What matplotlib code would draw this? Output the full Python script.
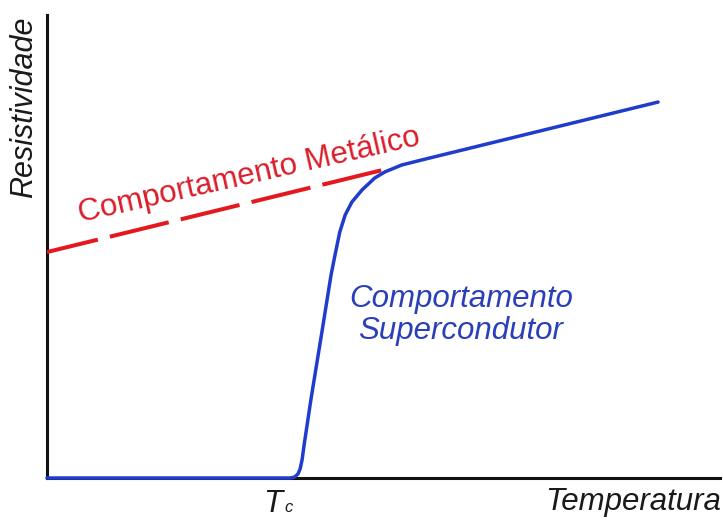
import matplotlib
matplotlib.use('Agg')
import matplotlib.pyplot as plt

# curve values (axes run 0..100 in both directions)
super_temp = [0, 36.1, 36.8, 37.3, 37.6, 37.9, 38.2, 39.2, 40.9, 42.2, 42.8,
              43.5, 44.3, 45.3, 46.8, 48.7, 50.2, 52.7, 55.7, 90.8]
super_res = [0, 0, 0.2, 0.9, 1.9, 3.9, 7.1, 16.8, 32.0, 43.8, 48.2,
             53.1, 56.8, 59.6, 62.2, 64.8, 66.1, 67.6, 68.7, 81.2]

metal_temp = [0, 49.8]
metal_res = [48.8, 66.5]

tc_pos = 32.1

plt.rcParams['font.family'] = ['Liberation Sans', 'DejaVu Sans']
plt.rcParams['lines.scale_dashes'] = False

red = '#e3191f'
blue = '#1f3ccc'

fig = plt.figure(figsize=(7.23, 5.2), dpi=100)
ax = fig.add_axes([47 / 723, 42 / 520, 673 / 723, 463 / 520])
ax.set_xlim(0, 100)
ax.set_ylim(0, 100)

for side in ['top', 'right']:
    ax.spines[side].set_visible(False)
for side in ['left', 'bottom']:
    ax.spines[side].set_linewidth(2.2)
    ax.spines[side].set_color('#111111')
ax.set_xticks([])
ax.set_yticks([])

# metallic behaviour (dashed)
ax.plot(metal_temp, metal_res, color=red, lw=2.9,
        linestyle=(5.9, (43.6, 8.9)), dash_capstyle='butt', zorder=3)

# superconducting behaviour
ax.plot(super_temp, super_res, color=blue, lw=2.5, solid_capstyle='round',
        solid_joinstyle='round', clip_on=False, zorder=4)

ax.text(4.9, 55.3, 'Comportamento Metálico', color='#d91e2a', fontsize=22.5,
        rotation=12.8, rotation_mode='anchor', ha='left', va='baseline')

ax.text(61.5, 36.9, 'Comportamento', color='#2a3fb8', fontsize=22.5,
        style='italic', ha='center', va='baseline')
ax.text(61.5, 30.0, 'Supercondutor', color='#2a3fb8', fontsize=22.5,
        style='italic', ha='center', va='baseline')

# axis labels
fig.text(24 / 723, 1 - 107 / 520, 'Resistividade', fontsize=22, style='italic',
         rotation=90, ha='center', va='center', color='#1a1a1a')
fig.text(721 / 723, 1 - 510 / 520, 'Temperatura', fontsize=22.5, style='italic',
         ha='right', va='baseline', color='#1a1a1a')

ax.text(tc_pos, -7.3, 'T', fontsize=22.5, style='italic', ha='left',
        va='baseline', color='#1a1a1a', clip_on=False)
ax.text(tc_pos + 3.2, -7.3, 'c', fontsize=12, style='italic', ha='left',
        va='baseline', color='#1a1a1a', clip_on=False)

fig.savefig('out.png', dpi=100, facecolor='white')
